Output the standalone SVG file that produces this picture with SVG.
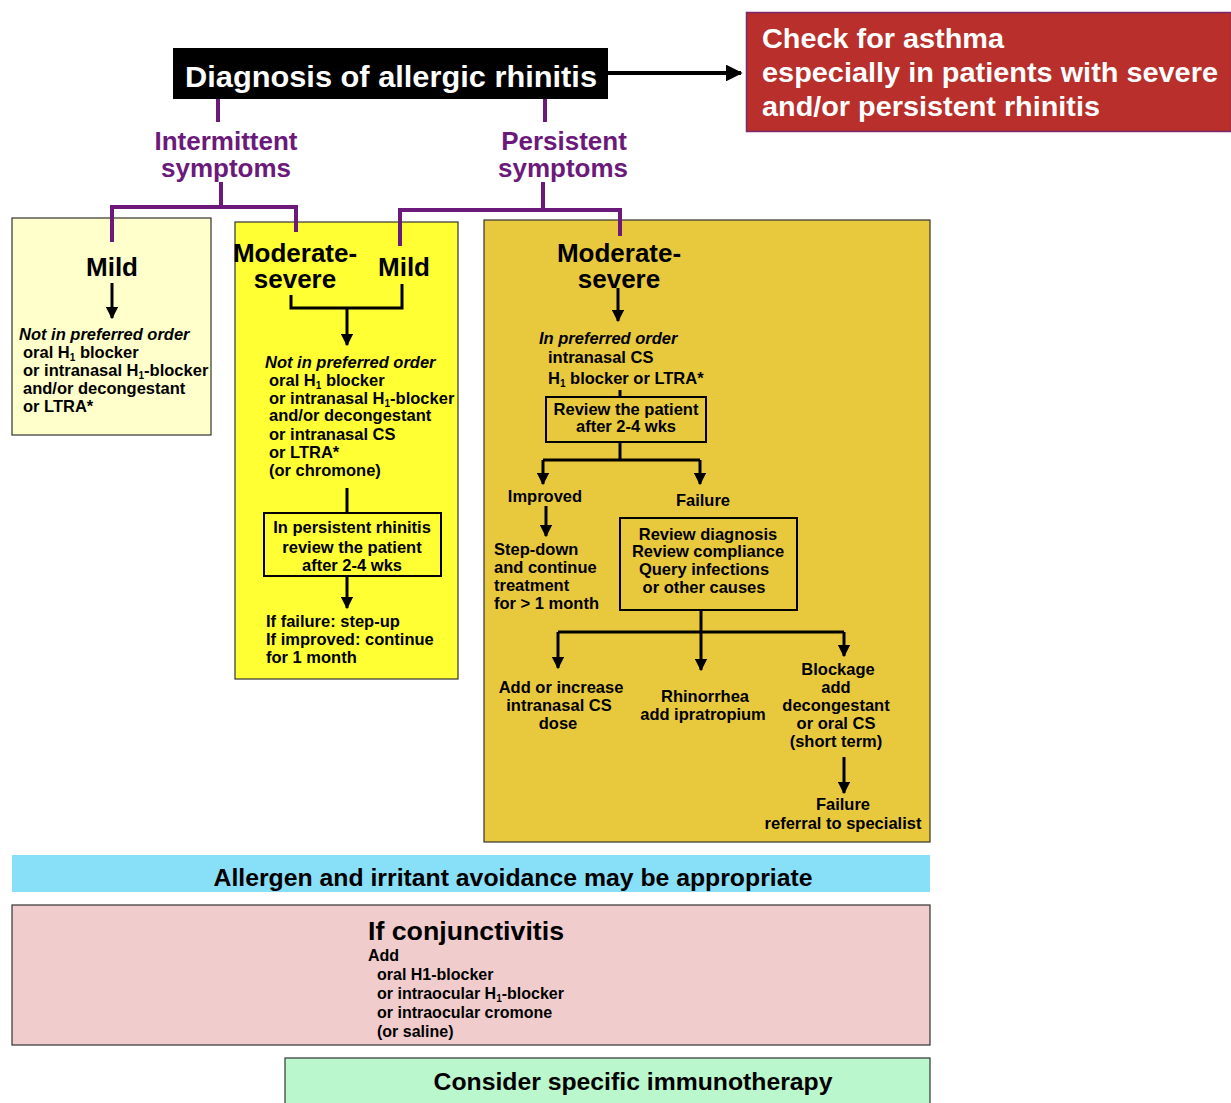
<svg xmlns="http://www.w3.org/2000/svg" width="1231" height="1103" viewBox="0 0 1231 1103">
<defs>
<marker id="ah" viewBox="0 0 10 10" refX="9" refY="5" markerWidth="4.2" markerHeight="4.2" markerUnits="strokeWidth" orient="auto">
<path d="M0,0 L10,5 L0,10 z" fill="#000"/>
</marker>
<style>
text{font-family:"Liberation Sans",Arial,sans-serif;font-weight:bold;}
.t{font-size:16.5px;fill:#000;}
.c{text-anchor:middle;}
.i{font-style:italic;}
.big{font-size:26px;fill:#000;}
.pur{font-size:26px;fill:#6b1a7b;text-anchor:middle;}
.pl{fill:none;stroke:#6b1a7b;stroke-width:4;}
.bl{fill:none;stroke:#000;stroke-width:3;}
.ar{fill:none;stroke:#000;stroke-width:3;marker-end:url(#ah);}
.box{stroke:#333;stroke-width:1.2;}
.ib{fill:none;stroke:#000;stroke-width:2;}
.sub{font-size:10px;}
</style>
</defs>

<g id="title">
<rect x="173" y="48" width="435" height="51" fill="#000"/>
<text x="391" y="87" font-size="29" fill="#fff" text-anchor="middle" textLength="412" lengthAdjust="spacingAndGlyphs">Diagnosis of allergic rhinitis</text>
</g>

<g id="asthma">
<rect x="746.5" y="12.5" width="485" height="119" fill="#b82f2b" stroke="#7a2a6a" stroke-width="1.5"/>
<text x="762" y="48" font-size="27" fill="#fff" textLength="242" lengthAdjust="spacingAndGlyphs">Check for asthma</text>
<text x="762" y="82" font-size="27" fill="#fff" textLength="456" lengthAdjust="spacingAndGlyphs">especially in patients with severe</text>
<text x="762" y="116" font-size="27" fill="#fff" textLength="338" lengthAdjust="spacingAndGlyphs">and/or persistent rhinitis</text>
</g>

<g id="intermittent">
<text class="pur" x="226" y="150">Intermittent</text>
<text class="pur" x="226" y="177">symptoms</text>
</g>
<g id="persistent">
<text class="pur" x="564" y="150">Persistent</text>
<text class="pur" x="563" y="177">symptoms</text>
</g>

<g id="box-int-mild">
<rect class="box" x="12" y="218" width="199" height="217" fill="#ffffcc"/>
<text class="big c" x="112" y="276">Mild</text>
<text class="t i" x="19" y="340">Not in preferred order</text>
<text class="t" x="23" y="358">oral H<tspan class="sub" baseline-shift="-3">1</tspan> blocker</text>
<text class="t" x="23" y="376">or intranasal H<tspan class="sub" baseline-shift="-3">1</tspan>-blocker</text>
<text class="t" x="23" y="394">and/or decongestant</text>
<text class="t" x="23" y="412">or LTRA*</text>
</g>

<g id="box-mod-int">
<rect class="box" x="235" y="222" width="223" height="457" fill="#ffff33"/>
<text class="big c" x="295" y="262">Moderate-</text>
<text class="big c" x="295" y="288">severe</text>
<text class="big c" x="404" y="276">Mild</text>
<text class="t i" x="265" y="368">Not in preferred order</text>
<text class="t" x="269" y="386">oral H<tspan class="sub" baseline-shift="-3">1</tspan> blocker</text>
<text class="t" x="269" y="404">or intranasal H<tspan class="sub" baseline-shift="-3">1</tspan>-blocker</text>
<text class="t" x="269" y="421">and/or decongestant</text>
<text class="t" x="269" y="440">or intranasal CS</text>
<text class="t" x="269" y="458">or LTRA*</text>
<text class="t" x="269" y="476">(or chromone)</text>
</g>
<g id="review-int">
<rect class="ib" x="264" y="513" width="177" height="63"/>
<text class="t c" x="352" y="533">In persistent rhinitis</text>
<text class="t c" x="352" y="553">review the patient</text>
<text class="t c" x="352" y="571">after 2-4 wks</text>
</g>
<g id="result-int">
<text class="t" x="266" y="627">If failure: step-up</text>
<text class="t" x="266" y="645">If improved: continue</text>
<text class="t" x="266" y="663">for 1 month</text>
</g>

<g id="box-mod-pers">
<rect class="box" x="484" y="220" width="446" height="622" fill="#e8c93e"/>
<text class="big c" x="619" y="262">Moderate-</text>
<text class="big c" x="619" y="288">severe</text>
<text class="t i" x="539" y="344">In preferred order</text>
<text class="t" x="548" y="363">intranasal CS</text>
<text class="t" x="548" y="384">H<tspan class="sub" baseline-shift="-3">1</tspan> blocker or LTRA*</text>
</g>
<g id="review-pers">
<rect class="ib" x="546" y="397" width="160" height="45"/>
<text class="t c" x="626" y="415">Review the patient</text>
<text class="t c" x="626" y="432">after 2-4 wks</text>
</g>
<g id="improved">
<text class="t c" x="545" y="502">Improved</text>
<text class="t" x="494" y="555">Step-down</text>
<text class="t" x="494" y="573">and continue</text>
<text class="t" x="494" y="591">treatment</text>
<text class="t" x="494" y="609">for &gt; 1 month</text>
</g>
<g id="failure">
<text class="t c" x="703" y="506">Failure</text>
<rect class="ib" x="620" y="518" width="177" height="92"/>
<text class="t c" x="708" y="540">Review diagnosis</text>
<text class="t c" x="708" y="557">Review compliance</text>
<text class="t c" x="704" y="575">Query infections</text>
<text class="t c" x="704" y="593">or other causes</text>
</g>
<g id="increase">
<text class="t c" x="561" y="693">Add or increase</text>
<text class="t c" x="559" y="711">intranasal CS</text>
<text class="t c" x="558" y="729">dose</text>
</g>
<g id="rhinorrhea">
<text class="t c" x="705" y="702">Rhinorrhea</text>
<text class="t c" x="703" y="720">add ipratropium</text>
</g>
<g id="blockage">
<text class="t c" x="838" y="675">Blockage</text>
<text class="t c" x="836" y="693">add</text>
<text class="t c" x="836" y="711">decongestant</text>
<text class="t c" x="836" y="729">or oral CS</text>
<text class="t c" x="836" y="747">(short term)</text>
</g>
<g id="specialist">
<text class="t c" x="843" y="810">Failure</text>
<text class="t c" x="843" y="829">referral to specialist</text>
</g>

<g id="avoidance">
<rect x="12" y="855" width="918" height="37" fill="#88dff8"/>
<text x="513" y="886" font-size="23" text-anchor="middle" textLength="599" lengthAdjust="spacingAndGlyphs">Allergen and irritant avoidance may be appropriate</text>
</g>

<g id="conjunctivitis">
<rect class="box" x="12" y="905" width="918" height="140" fill="#f0cccc"/>
<text x="368" y="940" font-size="26" textLength="196" lengthAdjust="spacingAndGlyphs">If conjunctivitis</text>
<text x="368" y="961" font-size="16">Add</text>
<text x="377" y="980" font-size="16">oral H1-blocker</text>
<text x="377" y="999" font-size="16">or intraocular H<tspan class="sub" baseline-shift="-3">1</tspan>-blocker</text>
<text x="377" y="1018" font-size="16">or intraocular cromone</text>
<text x="377" y="1037" font-size="16">(or saline)</text>
</g>

<g id="immunotherapy">
<rect class="box" x="285" y="1058" width="645" height="50" fill="#bbf7cc"/>
<text x="633" y="1090" font-size="23" text-anchor="middle" textLength="399" lengthAdjust="spacingAndGlyphs">Consider specific immunotherapy</text>
</g>

<g id="connectors">
<path d="M608,73 H741" fill="none" stroke="#000" stroke-width="4" marker-end="url(#ah)"/>
<path class="pl" d="M218,99 V122"/>
<path class="pl" d="M545,99 V122"/>
<path class="pl" d="M221,182 V207 M112,242 V207 H296 V232"/>
<path class="pl" d="M543,182 V210 M400,246 V210 H620 V236"/>
<path class="ar" d="M112,283 V318"/>
<path class="bl" d="M291,295 V308 H402 V284"/>
<path class="ar" d="M347,308 V345"/>
<path class="bl" d="M347,488 V513"/>
<path class="ar" d="M347,576 V608"/>
<path class="ar" d="M618,288 V321"/>
<path class="bl" d="M620,390 V397"/>
<path class="bl" d="M620,442 V460"/>
<path class="bl" d="M543,460 H700"/>
<path class="ar" d="M543,460 V484"/>
<path class="ar" d="M700,460 V484"/>
<path class="ar" d="M546,506 V536"/>
<path class="bl" d="M701,610 V632"/>
<path class="bl" d="M558,632 H844"/>
<path class="ar" d="M558,632 V668"/>
<path class="ar" d="M701,632 V670"/>
<path class="ar" d="M844,632 V656"/>
<path class="ar" d="M844,757 V793"/>
</g>
</svg>
